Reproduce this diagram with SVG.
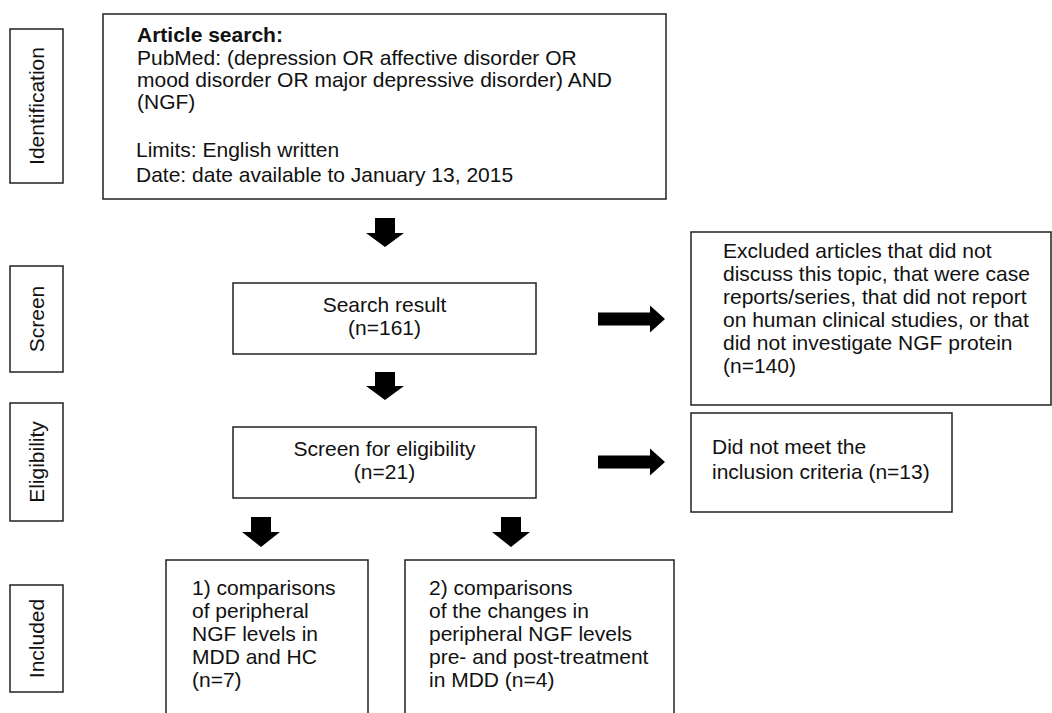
<svg xmlns="http://www.w3.org/2000/svg" width="1052" height="713" viewBox="0 0 1052 713">
<style>
.box{fill:#fff;stroke:#222;stroke-width:1.5}
.t{font-family:"Liberation Sans",Arial,sans-serif;font-size:21px;fill:#111}
.b{font-weight:bold}
.c{text-anchor:middle}
.arr{fill:#000}
</style>
<rect width="1052" height="713" fill="#fff"/>
<g id="label-identification">
<rect class="box" x="10" y="29" width="53" height="154"/>
<text class="t c" transform="translate(43.5,106) rotate(-90)">Identification</text>
</g>
<g id="label-screen">
<rect class="box" x="10" y="266" width="53" height="106"/>
<text class="t c" transform="translate(43.5,319) rotate(-90)">Screen</text>
</g>
<g id="label-eligibility">
<rect class="box" x="10" y="403" width="53" height="118"/>
<text class="t c" transform="translate(43.5,462) rotate(-90)">Eligibility</text>
</g>
<g id="label-included">
<rect class="box" x="10" y="585" width="53" height="107"/>
<text class="t c" transform="translate(43.5,638.5) rotate(-90)">Included</text>
</g>
<g id="article-search">
<rect class="box" x="103" y="14" width="563" height="185"/>
<text class="t b" x="137" y="42">Article search:</text>
<text class="t" x="137" y="65">PubMed: (depression OR affective disorder OR</text>
<text class="t" x="137" y="87">mood disorder OR major depressive disorder) AND</text>
<text class="t" x="137" y="109">(NGF)</text>
<text class="t" x="136" y="157">Limits: English written</text>
<text class="t" x="136" y="182">Date: date available to January 13, 2015</text>
</g>
<g id="search-result">
<rect class="box" x="233" y="283" width="303" height="71"/>
<text class="t c" x="384.5" y="312">Search result</text>
<text class="t c" x="384.5" y="335">(n=161)</text>
</g>
<g id="excluded">
<rect class="box" x="691" y="232" width="360" height="173"/>
<text class="t" x="723" y="258">Excluded articles that did not</text>
<text class="t" x="723" y="281">discuss this topic, that were case</text>
<text class="t" x="723" y="304">reports/series, that did not report</text>
<text class="t" x="723" y="327">on human clinical studies, or that</text>
<text class="t" x="723" y="350">did not investigate NGF protein</text>
<text class="t" x="723" y="373">(n=140)</text>
</g>
<g id="screen-eligibility">
<rect class="box" x="233" y="427" width="303" height="71"/>
<text class="t c" x="384.5" y="456">Screen for eligibility</text>
<text class="t c" x="384.5" y="479">(n=21)</text>
</g>
<g id="not-meet">
<rect class="box" x="691" y="413" width="261" height="99"/>
<text class="t" x="712" y="454">Did not meet the</text>
<text class="t" x="712" y="479">inclusion criteria (n=13)</text>
</g>
<g id="included-1">
<rect class="box" x="166" y="560" width="202" height="170"/>
<text class="t" x="192" y="595">1) comparisons</text>
<text class="t" x="192" y="618">of peripheral</text>
<text class="t" x="192" y="641">NGF levels in</text>
<text class="t" x="192" y="664">MDD and HC</text>
<text class="t" x="192" y="687">(n=7)</text>
</g>
<g id="included-2">
<rect class="box" x="405" y="560" width="269" height="170"/>
<text class="t" x="429" y="595">2) comparisons</text>
<text class="t" x="429" y="618">of the changes in</text>
<text class="t" x="429" y="641">peripheral NGF levels</text>
<text class="t" x="429" y="664">pre- and post-treatment</text>
<text class="t" x="429" y="687">in MDD (n=4)</text>
</g>
<g id="connectors">
<polygon class="arr" points="375,218 395,218 395,233 404,233 385,247 366,233 375,233"/>
<polygon class="arr" points="375,372 395,372 395,386 404,386 385,400 366,386 375,386"/>
<polygon class="arr" points="251,517 271,517 271,532 280,532 261,547 242,532 251,532"/>
<polygon class="arr" points="501,517 521,517 521,532 530,532 511,547 492,532 501,532"/>
<polygon class="arr" points="598,312.5 650,312.5 650,305.5 665,319 650,332.5 650,325.5 598,325.5"/>
<polygon class="arr" points="598,455.5 650,455.5 650,448.5 665,462 650,475.5 650,468.5 598,468.5"/>
</g>
</svg>
